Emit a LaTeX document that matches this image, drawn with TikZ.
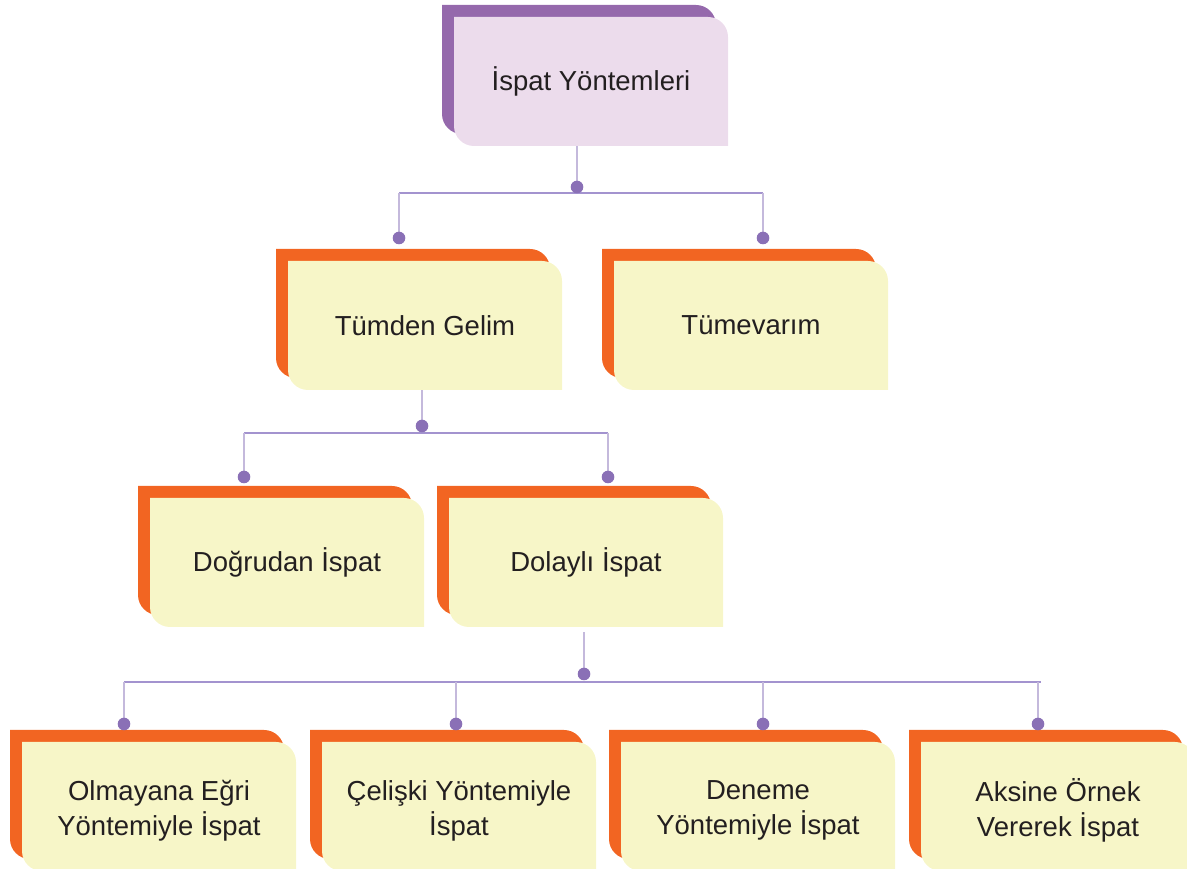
\documentclass[tikz,border=0pt]{standalone}
\usepackage{fontspec}
\usetikzlibrary{calc}
\setmainfont{Liberation Sans}
\definecolor{orng}{HTML}{F26522}
\definecolor{yell}{HTML}{F7F6C8}
\definecolor{purp}{HTML}{9569AC}
\definecolor{pink}{HTML}{ECDCEC}
\definecolor{dotc}{HTML}{8A70B6}
\definecolor{barc}{HTML}{A393CF}
\definecolor{stemc}{HTML}{C4B9DC}
\definecolor{txt}{HTML}{231F20}
\newcommand\cardbox[7][]{%
  \begin{scope}[shift={(#3,{869-#4})}]
    \fill[#5] (-149,76.5) -- (105,76.5) arc[start angle=90,end angle=0,radius=20]
      -- (125,-52.5) -- (-129,-52.5) arc[start angle=270,end angle=180,radius=20] -- cycle;
    \fill[#6] (-137,64.5) -- (117,64.5) arc[start angle=90,end angle=0,radius=20]
      -- (137,-64.5) -- (-117,-64.5) arc[start angle=270,end angle=180,radius=20] -- cycle;
    \node[boxtext,#1] (#2) at (0,0) {#7};
  \end{scope}}
\begin{document}
\begin{tikzpicture}[x=1pt,y=1pt,
  boxtext/.style={align=center, text=txt, font=\fontsize{27.5}{35}\selectfont,
    minimum width=274, minimum height=129, inner sep=0},
  twoline/.style={yshift=-4},
  stem/.style={draw=stemc, line width=1.3pt},
  bar/.style={draw=barc, line width=1.3pt},
  dot/.style={fill=dotc}]
\useasboundingbox (0,0) rectangle (1187,869);
\clip (0,0) rectangle (1187,869);

\cardbox{top}{591}{81.5}{purp}{pink}{İspat Yöntemleri}
\cardbox{tg}{425}{325.5}{orng}{yell}{Tümden Gelim}
\cardbox{tv}{751}{325.5}{orng}{yell}{Tümevarım}
\cardbox{dg}{287}{562.5}{orng}{yell}{Doğrudan İspat}
\cardbox{dl}{586}{562.5}{orng}{yell}{Dolaylı İspat}
\cardbox[twoline]{oe}{159}{806.5}{orng}{yell}{Olmayana Eğri\\Yöntemiyle İspat}
\cardbox[twoline]{cy}{459}{806.5}{orng}{yell}{Çelişki Yöntemiyle\\İspat}
\cardbox[twoline]{dy}{758}{806.5}{orng}{yell}{Deneme\\Yöntemiyle İspat}
\cardbox[twoline]{ao}{1058}{806.5}{orng}{yell}{Aksine Örnek\\Vererek İspat}

% level 1 -> 2
\coordinate (d0) at (577,{869-187});
\coordinate (b0l) at (399,{869-193});
\coordinate (b0r) at (763,{869-193});
\coordinate (d1) at (399,{869-238});
\coordinate (d2) at (763,{869-238});
\draw[stem] (top.south -| d0) -- (d0);
\draw[bar] (b0l) -- (b0r);
\draw[stem] (b0l) -- (d1);
\draw[stem] (b0r) -- (d2);
\foreach \p in {d0,d1,d2} \fill[dot] (\p) circle (6.3);

% level 2 -> 3
\coordinate (d3) at (422,{869-426});
\coordinate (b1l) at (244,{869-433});
\coordinate (b1r) at (608,{869-433});
\coordinate (d4) at (244,{869-477});
\coordinate (d5) at (608,{869-477});
\draw[stem] (tg.south -| d3) -- (d3);
\draw[bar] (b1l) -- (b1r);
\draw[stem] (b1l) -- (d4);
\draw[stem] (b1r) -- (d5);
\foreach \p in {d3,d4,d5} \fill[dot] (\p) circle (6.3);

% level 3 -> 4
\coordinate (d6) at (584,{869-674});
\coordinate (b2l) at (124,{869-682});
\coordinate (b2r) at (1041,{869-682});
\coordinate (d7) at (124,{869-724});
\coordinate (d8) at (456,{869-724});
\coordinate (d9) at (763,{869-724});
\coordinate (d10) at (1038,{869-724});
\draw[stem] ($(dl.south -| d6)+(0,-5)$) -- (d6);
\draw[bar] (b2l) -- (b2r);
\draw[stem] (b2l) -- (d7);
\draw[stem] (d8 |- b2l) -- (d8);
\draw[stem] (d9 |- b2l) -- (d9);
\draw[stem] (d10 |- b2l) -- (d10);
\foreach \p in {d6,d7,d8,d9,d10} \fill[dot] (\p) circle (6.3);
\end{tikzpicture}
\end{document}
